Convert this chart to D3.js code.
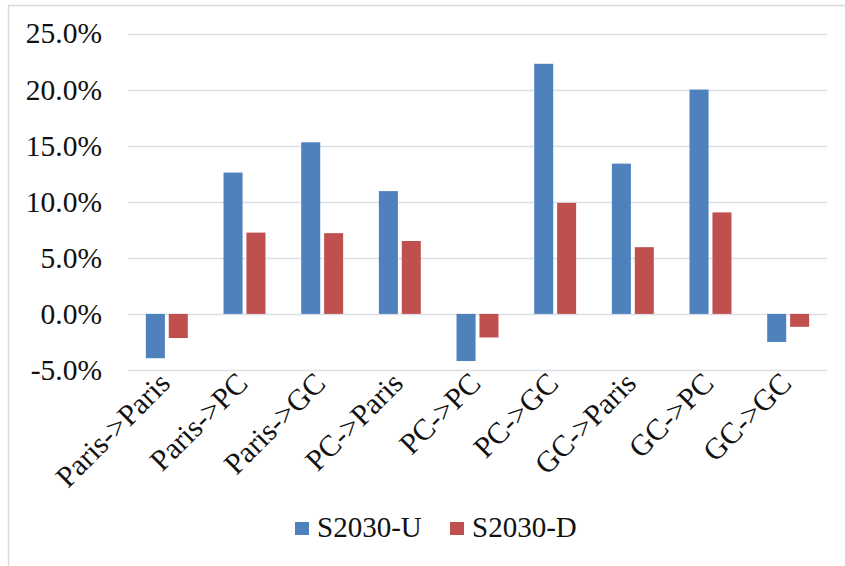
<!DOCTYPE html>
<html>
<head>
<meta charset="utf-8">
<script src="https://cdn.jsdelivr.net/npm/d3@7"></script>
<style>
  html, body { margin: 0; padding: 0; background: #fff; }
  svg text { font-family: "Liberation Serif", "Tinos", "Times New Roman", "DejaVu Serif", serif !important; fill: #111; }
</style>
</head>
<body>
<div id="chart"></div>
<script>
const categories = ["Paris->Paris", "Paris->PC", "Paris->GC", "PC->Paris", "PC->PC", "PC->GC", "GC->Paris", "GC->PC", "GC->GC"]
const seriesNames = ["S2030-U", "S2030-D"]
const upValues = [-3.95, 12.6, 15.3, 10.95, -4.2, 22.3, 13.4, 20.0, -2.5]
const downValues = [-2.15, 7.25, 7.2, 6.5, -2.1, 9.9, 5.95, 9.05, -1.15]
const yTicks = [-5, 0, 5, 10, 15, 20, 25]
const colors = ["#4f81bd", "#c0504d"]

const width = 845
const height = 566
const plot = { left: 128, right: 827, top: 33.5, bottom: 370 }
const serif = "'Liberation Serif', Tinos, 'Times New Roman', 'DejaVu Serif', serif"

const svg = d3.select("#chart")
  .append("svg")
  .attr("width", width)
  .attr("height", height)
  .attr("viewBox", [0, 0, width, height])
  .attr("font-family", serif)

// chart area border (clipped by page on right/bottom)
svg.append("rect")
  .attr("x", 8.5).attr("y", 5.5)
  .attr("width", width + 10).attr("height", height + 10)
  .attr("fill", "none")
  .attr("stroke", "#d9d9d9")
  .attr("stroke-width", 1.5)

const y = d3.scaleLinear()
  .domain([-5, 25])
  .range([plot.bottom, plot.top])

const x0 = d3.scaleBand()
  .domain(categories)
  .range([plot.left, plot.right])
  .paddingInner(0.46)
  .paddingOuter(0.23)

const x1 = d3.scaleBand()
  .domain(seriesNames)
  .range([0, x0.bandwidth()])
  .paddingInner(0.17)

// gridlines
svg.append("g")
  .selectAll("line")
  .data(yTicks)
  .enter()
  .append("line")
  .attr("x1", plot.left)
  .attr("x2", plot.right)
  .attr("y1", d => Math.round(y(d)) + 0.5)
  .attr("y2", d => Math.round(y(d)) + 0.5)
  .attr("stroke", "#dcdfe8")
  .attr("stroke-width", 1.5)

// y tick labels
const yAxis = d3.axisLeft(y)
  .tickValues(yTicks)
  .tickSize(0)
  .tickPadding(0)
  .tickFormat(d => d.toFixed(1) + "%")

svg.append("g")
  .attr("transform", `translate(102,0)`)
  .call(yAxis)
  .attr("font-family", serif)
  .attr("font-size", 29.5)
  .call(g => g.select(".domain").remove())
  .selectAll("text")
  .attr("dy", "0.32em")
  .attr("fill", "#111")

// bars
const rows = categories.map((c, i) => ({ category: c, values: [upValues[i], downValues[i]] }))

const groups = svg.append("g")
  .selectAll("g")
  .data(rows)
  .enter()
  .append("g")
  .attr("transform", d => `translate(${x0(d.category)},0)`)

groups.selectAll("rect")
  .data(d => d.values.map((v, i) => ({ series: seriesNames[i], value: v, color: colors[i] })))
  .enter()
  .append("rect")
  .attr("x", d => x1(d.series))
  .attr("width", x1.bandwidth())
  .attr("y", d => y(Math.max(0, d.value)))
  .attr("height", d => Math.abs(y(d.value) - y(0)))
  .attr("fill", d => d.color)

// category labels, rotated
svg.append("g")
  .selectAll("text")
  .data(categories)
  .enter()
  .append("text")
  .attr("text-anchor", "end")
  .attr("font-size", 30)
  .attr("transform", d => `translate(${x0(d) + x0.bandwidth() / 2 + 5},${plot.bottom + 15}) rotate(-45)`)
  .text(d => d)

// legend
const legendItems = [
  { name: seriesNames[0], color: colors[0], x: 295 },
  { name: seriesNames[1], color: colors[1], x: 450 }
]
const legend = svg.append("g")
  .selectAll("g")
  .data(legendItems)
  .enter()
  .append("g")
  .attr("transform", d => `translate(${d.x},522)`)

legend.append("rect")
  .attr("width", 14)
  .attr("height", 13)
  .attr("fill", d => d.color)

legend.append("text")
  .attr("x", 22)
  .attr("y", 15)
  .attr("font-size", 29)
  .text(d => d.name)
</script>
</body>
</html>
